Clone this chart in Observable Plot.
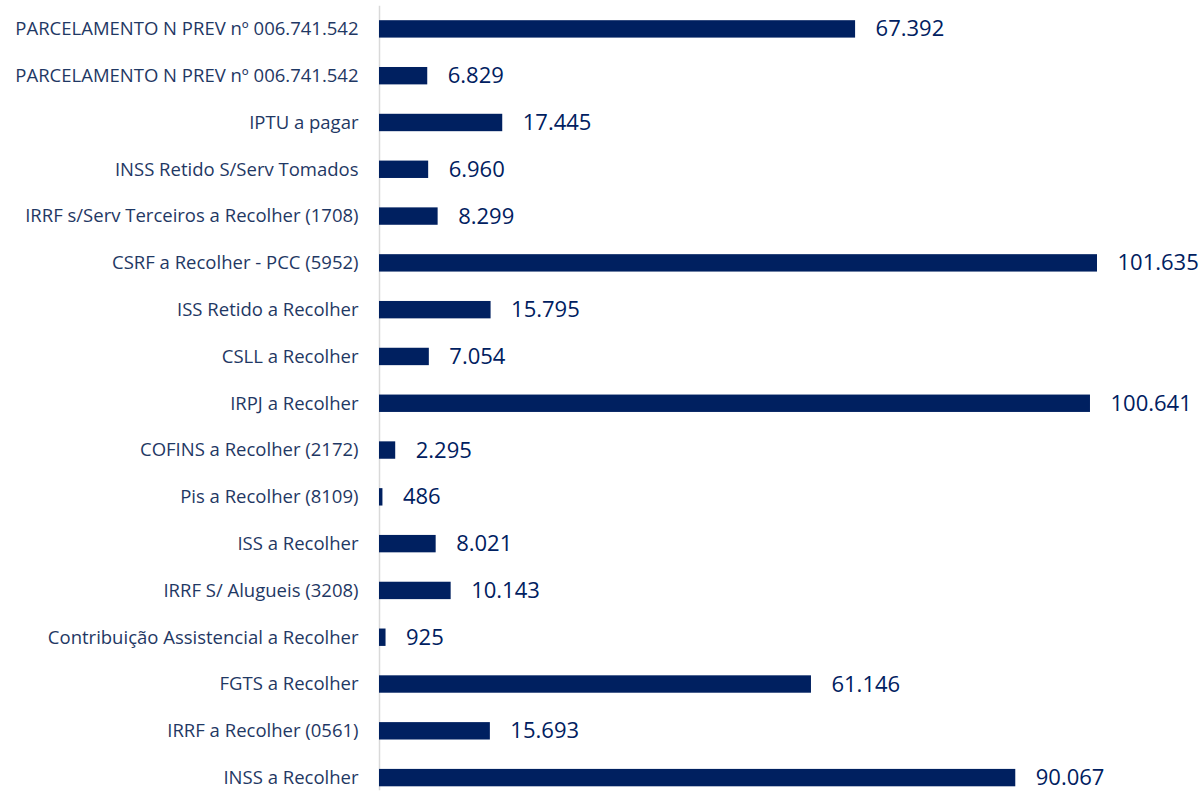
<!DOCTYPE html>
<html>
<head>
<meta charset="utf-8">
<script src="https://cdn.jsdelivr.net/npm/d3@7"></script>
<script src="https://cdn.jsdelivr.net/npm/@observablehq/plot@0.6"></script>
<style>
  html, body { margin: 0; padding: 0; background: #fff; }
  #chart svg { display: block; font-family: "Open Sans", sans-serif; }
</style>
</head>
<body>
<div id="chart"></div>
<script>
const categories = [
  "PARCELAMENTO N PREV nº 006.741.542",
  "PARCELAMENTO N PREV nº 006.741.542",
  "IPTU a pagar",
  "INSS Retido S/Serv Tomados",
  "IRRF s/Serv Terceiros a Recolher (1708)",
  "CSRF a Recolher - PCC (5952)",
  "ISS Retido a Recolher",
  "CSLL a Recolher",
  "IRPJ a Recolher",
  "COFINS a Recolher (2172)",
  "Pis a Recolher (8109)",
  "ISS a Recolher",
  "IRRF S/ Alugueis (3208)",
  "Contribuição Assistencial a Recolher",
  "FGTS a Recolher",
  "IRRF a Recolher (0561)",
  "INSS a Recolher"
];
const values = [67392, 6829, 17445, 6960, 8299, 101635, 15795, 7054, 100641, 2295, 486, 8021, 10143, 925, 61146, 15693, 90067];

const data = categories.map((c, i) => ({i, category: c, value: values[i]}));
const fmt = d3.formatLocale({decimal: ",", thousands: ".", grouping: [3], currency: ["R$", ""]}).format(",");

const chart = Plot.plot({
  width: 1202,
  height: 791,
  marginLeft: 379,
  marginRight: 105,
  marginTop: 6,
  marginBottom: 2,
  x: {domain: [0, 101635], axis: null},
  y: {type: "band", domain: d3.range(categories.length), range: [5.5, 801], padding: 0, round: false, axis: null, label: null},
  marks: [
    Plot.frame({anchor: "left", stroke: "#d9d9d9", strokeWidth: 1.5}),
    Plot.barX(data, {x: "value", y: "i", fill: "#002060", insetTop: 14.7, insetBottom: 14.7}),
    Plot.axisY({tickSize: 0, tickPadding: 21, tickFormat: i => categories[i], label: null, fontSize: 18.5, fill: "#1f3864"}),
    Plot.text(data, {x: "value", y: "i", text: d => fmt(d.value), textAnchor: "start", dx: 20, dy: 0, fontSize: 22, fill: "#002060"})
  ]
});
document.getElementById("chart").appendChild(chart);
</script>
</body>
</html>
